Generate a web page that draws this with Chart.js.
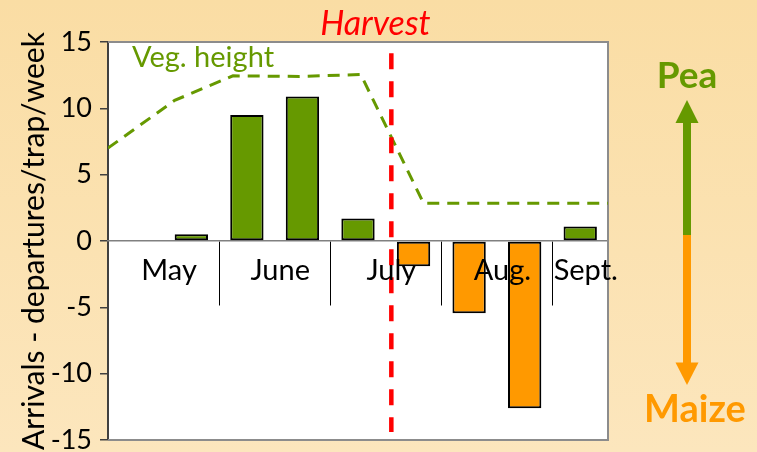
<!DOCTYPE html>
<html><head><meta charset="utf-8">
<script src="https://cdn.jsdelivr.net/npm/chart.js@4"></script>
<style>
html,body{margin:0;padding:0;}
body{width:757px;height:452px;background:linear-gradient(#FADDA4,#FCE6BD);overflow:hidden;}
#wrap{position:relative;width:757px;height:452px;}
</style></head><body><div id="wrap"><canvas id="c"></canvas></div>
<script>
// ---- data ----
const weeks = ['May 1','May 2','June 1','June 2','July 1','July 2','Aug. 1','Aug. 2','Sept. 1'];
const netFlux = [null, 0.5, 9.5, 10.9, 1.7, -1.9, -5.45, -12.6, 1.1];
const vegWeek = [-0.5, 0.7, 1.75, 2.95, 4.05, 5.18, 8.5];
const vegHeight = [7.0, 10.6, 12.45, 12.4, 12.55, 2.85, 2.85];
const months = ['May','June','July','Aug.','Sept.'];
const monthStart = [0, 2, 4, 6, 8];
const monthSpan = [2, 2, 2, 2, 1];
const harvestWeek = 4.6;
const harvestRange = [14.15, -14.4];
const yTickValues = [-15, -10, -5, 0, 5, 10, 15];

const GREEN = '#669900', ORANGE = '#FF9900', FONT = 'Lato';

const deco = {
  id: 'deco',
  beforeDraw(chart) {
    const {ctx, chartArea: a} = chart;
    ctx.save();
    ctx.fillStyle = '#ffffff';
    ctx.fillRect(a.left, a.top, a.right - a.left, a.bottom - a.top);
    ctx.restore();
  },
  beforeDatasetsDraw(chart) {
    const {ctx, chartArea: a} = chart;
    ctx.save();
    ctx.strokeStyle = '#8c8c8c';
    ctx.lineWidth = 2;
    ctx.beginPath();
    ctx.moveTo(a.left, a.top); ctx.lineTo(a.right, a.top);
    ctx.lineTo(a.right, a.bottom); ctx.lineTo(a.left, a.bottom);
    ctx.stroke();
    ctx.restore();
  },
  afterDraw(chart) {
    const {ctx, chartArea: a} = chart;
    const xl = chart.scales.xl;
    ctx.save();
    // Harvest label
    ctx.fillStyle = '#FF0000';
    ctx.font = 'italic 34px ' + FONT;
    ctx.textAlign = 'center';
    ctx.textBaseline = 'alphabetic';
    ctx.fillText('Harvest', xl.getPixelForValue(harvestWeek) - 16, 35);
    // Veg. height label
    ctx.fillStyle = GREEN;
    ctx.font = '29px ' + FONT;
    ctx.textAlign = 'left';
    ctx.fillText('Veg. height', a.left + 24, 67);
    // Pea / Maize arrow
    const cx = a.right + 79;
    ctx.fillStyle = GREEN;
    ctx.fillRect(cx - 4, 122, 8, 114);
    ctx.beginPath();
    ctx.moveTo(cx, 100); ctx.lineTo(cx + 11.5, 123); ctx.lineTo(cx - 11.5, 123); ctx.closePath();
    ctx.fill();
    ctx.fillStyle = ORANGE;
    ctx.fillRect(cx - 4, 235, 8, 129);
    ctx.beginPath();
    ctx.moveTo(cx, 385); ctx.lineTo(cx + 11.5, 362.5); ctx.lineTo(cx - 11.5, 362.5); ctx.closePath();
    ctx.fill();
    ctx.font = 'bold 37px ' + FONT;
    ctx.textAlign = 'center';
    ctx.fillStyle = GREEN;
    ctx.fillText('Pea', cx, 88);
    ctx.font = 'bold 38px ' + FONT;
    ctx.fillStyle = ORANGE;
    ctx.fillText('Maize', cx + 8, 422);
    ctx.restore();
  }
};

new Chart(document.getElementById('c'), {
  type: 'bar',
  data: {
    labels: weeks,
    datasets: [
      {
        type: 'line', label: 'Harvest', xAxisID: 'xl', yAxisID: 'y', order: 0,
        data: harvestRange.map(v => ({x: harvestWeek, y: v})),
        borderColor: '#FF0000', borderWidth: 4.5, borderDash: [16, 12],
        pointRadius: 0, fill: false, tension: 0
      },
      {
        type: 'line', label: 'Veg. height', xAxisID: 'xl', yAxisID: 'y', order: 1,
        data: vegWeek.map((w, i) => ({x: w, y: vegHeight[i]})),
        borderColor: GREEN, borderWidth: 3, borderDash: [12, 8],
        pointRadius: 0, fill: false, tension: 0
      },
      {
        type: 'bar', label: 'Arrivals - departures', xAxisID: 'x', yAxisID: 'y', order: 2,
        data: netFlux, grouped: false,
        backgroundColor: ctx => (ctx.raw >= 0 ? GREEN : ORANGE),
        borderColor: '#000000', borderWidth: 2, borderSkipped: false,
        barPercentage: 0.6, categoryPercentage: 1
      }
    ]
  },
  options: {
    responsive: true, maintainAspectRatio: false, animation: false, devicePixelRatio: 1,
    layout: {padding: {left: 0, top: 42, right: 149, bottom: 12}},
    plugins: {legend: {display: false}, tooltip: {enabled: false}, title: {display: false}},
    scales: {
      y: {
        min: -15, max: 15, position: 'left', stacked: false,
        afterBuildTicks: s => { s.ticks = yTickValues.map(v => ({value: v})); },
        ticks: {font: {family: FONT, size: 27}, color: '#000', padding: 8},
        grid: {drawOnChartArea: false, drawTicks: true, tickLength: 8, color: '#404040', lineWidth: 1.5},
        border: {display: true, color: '#404040', width: 2},
        title: {display: true, text: 'Arrivals - departures/trap/week', font: {family: FONT, size: 30}, color: '#000', padding: {top: 16, bottom: 0}},
        afterFit: s => { s.width = 108; s.paddingTop = 0; s.paddingBottom = 0; }
      },
      x: {
        type: 'category', position: {y: 0}, offset: true,
        ticks: {display: false},
        grid: {
          display: true, drawOnChartArea: false, drawTicks: true, tickLength: 64, offset: true, lineWidth: 1,
          color: ctx => (ctx.index !== undefined && ctx.index > 0 && monthStart.includes(ctx.index) ? '#000' : 'rgba(0,0,0,0)')
        },
        border: {display: true, color: '#808080', width: 1.5}
      },
      xl: {
        type: 'linear', axis: 'x', position: {y: 0}, min: -0.5, max: 8.5, bounds: 'data', offset: false,
        afterBuildTicks: s => { s.ticks = months.map((m, i) => ({value: monthStart[i] + monthSpan[i] / 2 - 0.5 + 0.1})); },
        ticks: {z: 1, font: {family: FONT, size: 29}, color: '#000', padding: 12, autoSkip: false, maxRotation: 0,
          callback: (v, i) => months[i]},
        grid: {display: false, drawTicks: false, offset: false},
        border: {display: false}
      }
    }
  },
  plugins: [deco]
});
</script></body></html>
